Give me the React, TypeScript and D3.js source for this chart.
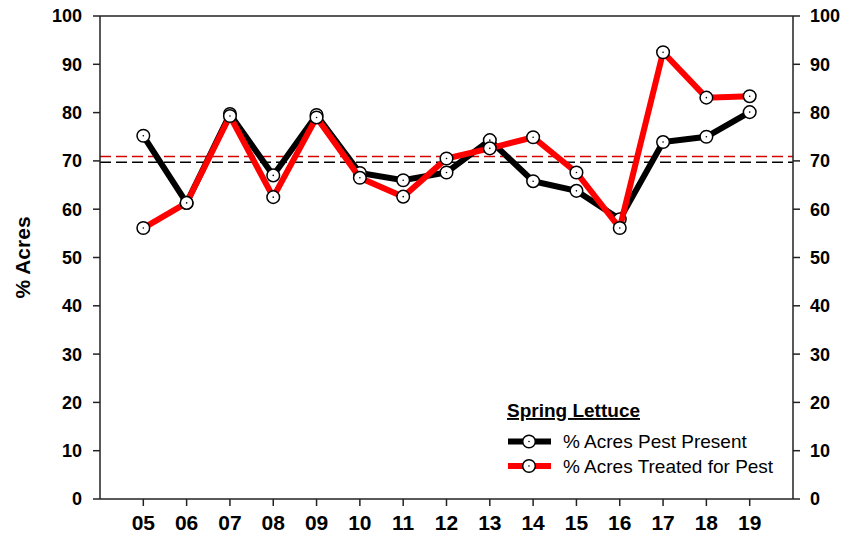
import React from "react";
import * as d3 from "d3";

const years = [5, 6, 7, 8, 9, 10, 11, 12, 13, 14, 15, 16, 17, 18, 19];
const yearLabels = ["05", "06", "07", "08", "09", "10", "11", "12", "13", "14", "15", "16", "17", "18", "19"];
const pestPresent = [75.2, 61.3, 79.7, 67.0, 79.5, 67.5, 66.0, 67.6, 74.3, 65.8, 63.8, 57.9, 73.9, 75.0, 80.1];
const treated = [56.1, 61.3, 79.3, 62.5, 79.0, 66.5, 62.6, 70.5, 72.6, 74.9, 67.6, 56.1, 92.5, 83.1, 83.4];
const pestAvg = 69.7;
const treatedAvg = 70.9;
const yTicks = [0, 10, 20, 30, 40, 50, 60, 70, 80, 90, 100];
const legendTitle = "Spring Lettuce";
const seriesNames = ["% Acres Pest Present", "% Acres Treated for Pest"];

const W = 842, H = 535;
const L = 100, R = 793, T = 16, B = 499;
const FONT = "Arial, 'Liberation Sans', sans-serif";

export default function App() {
  const x = d3.scaleLinear().domain([4, 20]).range([L, R]);
  const y = d3.scaleLinear().domain([0, 100]).range([B, T]);
  const line = d3.line<number>().x((_, i) => x(years[i])).y((d) => y(d));

  const series = [
    { vals: pestPresent, color: "#000000" },
    { vals: treated, color: "#ff0000" },
  ];

  const marker = (cx: number, cy: number, key: string) => (
    <g key={key}>
      <circle cx={cx} cy={cy} r={6.3} fill="#fff" stroke="#000" strokeWidth={1.5} />
      <circle cx={cx} cy={cy} r={0.8} fill="#000" />
    </g>
  );

  return (
    <svg width={W} height={H} style={{ position: "absolute", left: 0, top: 0 }} fontFamily={FONT}>
      <rect x={0} y={0} width={W} height={H} fill="#fff" />
      <line x1={L} x2={R} y1={y(pestAvg)} y2={y(pestAvg)} stroke="#000" strokeWidth={1.5} strokeDasharray="11,5" />
      <line x1={L} x2={R} y1={y(treatedAvg)} y2={y(treatedAvg)} stroke="#d40000" strokeWidth={1.5} strokeDasharray="11,5" />
      <line x1={L} x2={R} y1={T} y2={T} stroke="#222" strokeWidth={1.5} />
      <line x1={L} x2={R} y1={B} y2={B} stroke="#222" strokeWidth={1.5} />
      <line x1={L} x2={L} y1={T} y2={B} stroke="#222" strokeWidth={1.5} />
      <line x1={R} x2={R} y1={T} y2={B} stroke="#222" strokeWidth={1.5} />
      {yTicks.map((t) => (
        <g key={"yt" + t}>
          <line x1={L - 7} x2={L} y1={y(t)} y2={y(t)} stroke="#222" strokeWidth={1.5} />
          <text x={L - 18} y={y(t)} dy="0.36em" textAnchor="end" fontSize={18} fontWeight="bold">{t}</text>
          <line x1={R} x2={R + 7} y1={y(t)} y2={y(t)} stroke="#222" strokeWidth={1.5} />
          <text x={R + 17} y={y(t)} dy="0.36em" textAnchor="start" fontSize={18} fontWeight="bold">{t}</text>
        </g>
      ))}
      {years.map((yr, i) => (
        <g key={"xt" + yr}>
          <line x1={x(yr)} x2={x(yr)} y1={B} y2={B + 7} stroke="#222" strokeWidth={1.5} />
          <text x={x(yr)} y={530} textAnchor="middle" fontSize={21} fontWeight="bold">{yearLabels[i]}</text>
        </g>
      ))}
      <text transform={`translate(30, ${(T + B) / 2}) rotate(-90)`} textAnchor="middle" fontSize={21} fontWeight="bold">% Acres</text>
      {series.map((s, si) => (
        <g key={"s" + si}>
          <path d={line(s.vals) || ""} fill="none" stroke={s.color} strokeWidth={6} strokeLinejoin="miter" />
          {s.vals.map((v, i) => marker(x(years[i]), y(v), `m${si}-${i}`))}
        </g>
      ))}
      <text x={507} y={417} fontSize={19} fontWeight="bold" textDecoration="underline">{legendTitle}</text>
      {series.map((s, si) => {
        const ly = 441.5 + si * 24.5;
        return (
          <g key={"lg" + si}>
            <line x1={508} x2={551} y1={ly} y2={ly} stroke={s.color} strokeWidth={6} />
            {marker(529, ly, "lm" + si)}
            <text x={563} y={ly} dy="0.36em" fontSize={19}>{seriesNames[si]}</text>
          </g>
        );
      })}
    </svg>
  );
}
